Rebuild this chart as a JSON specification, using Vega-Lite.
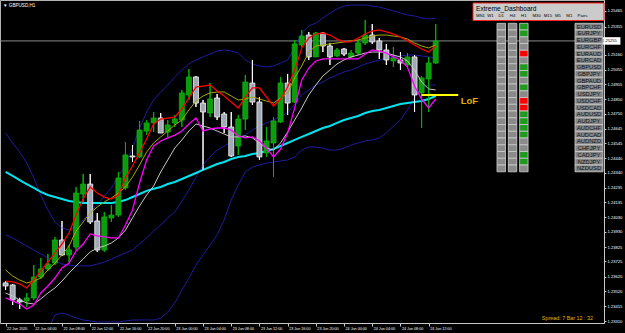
{
"$schema":"https://vega.github.io/schema/vega-lite/v6.json",
"width":604,"height":323,
"autosize":{"type":"none"},
"padding":{"left":0,"top":0,"right":21,"bottom":10},
"background":"#000000",
"config":{"view":{"stroke":"#b4b4b4","strokeWidth":1},"text":{"font":"Liberation Sans"},
 "axis":{"grid":false,"labelColor":"#ffffff","tickColor":"#c8c8c8","domainColor":"#c8c8c8","labelFont":"Liberation Sans","labelOverlap":false,"labelFlush":false,"labelBound":false}},
"title":{"text":"▼ GBPUSD,H1","anchor":"start","frame":"group","offset":-8,"fontSize":4.6,"color":"#ffffff","font":"Liberation Sans","fontWeight":"normal","dx":3},
"datasets":{
"candles":[
{"h":0,"o":1.23576,"hi":1.23589,"lo":1.23527,"c":1.23555,"r":1.23589,"ol":1.23666,"m":1.23472,"g":1.23506,"cy":1.24346,"bu":1.24616,"bm":1.23909,"bl":1.2325},
{"h":1,"o":1.23562,"hi":1.23569,"lo":1.23423,"c":1.23458,"r":1.23583,"ol":1.23624,"m":1.23451,"g":1.23485,"cy":1.24318,"bu":1.24547,"bm":1.23888,"bl":1.2325},
{"h":2,"o":1.23458,"hi":1.23472,"lo":1.23395,"c":1.23444,"r":1.23569,"ol":1.23596,"m":1.2343,"g":1.23458,"cy":1.2429,"bu":1.24484,"bm":1.2386,"bl":1.2325},
{"h":3,"o":1.23451,"hi":1.23506,"lo":1.23409,"c":1.23472,"r":1.23541,"ol":1.23576,"m":1.23395,"g":1.23437,"cy":1.24262,"bu":1.24408,"bm":1.23832,"bl":1.2325},
{"h":4,"o":1.23472,"hi":1.237,"lo":1.23458,"c":1.23617,"r":1.23596,"ol":1.23589,"m":1.23423,"g":1.2343,"cy":1.24235,"bu":1.24304,"bm":1.23805,"bl":1.2325},
{"h":5,"o":1.23617,"hi":1.23749,"lo":1.23603,"c":1.23673,"r":1.23659,"ol":1.2361,"m":1.23506,"g":1.23465,"cy":1.24208,"bu":1.24186,"bm":1.23777,"bl":1.2325},
{"h":6,"o":1.23673,"hi":1.23777,"lo":1.23659,"c":1.23707,"r":1.23721,"ol":1.23666,"m":1.23555,"g":1.23506,"cy":1.24186,"bu":1.24082,"bm":1.23749,"bl":1.2325},
{"h":7,"o":1.23714,"hi":1.23895,"lo":1.237,"c":1.23874,"r":1.23784,"ol":1.23714,"m":1.2361,"g":1.23541,"cy":1.24172,"bu":1.23999,"bm":1.23728,"bl":1.23353},
{"h":8,"o":1.23874,"hi":1.24006,"lo":1.23763,"c":1.2377,"r":1.23846,"ol":1.2377,"m":1.2368,"g":1.23589,"cy":1.24158,"bu":1.23957,"bm":1.23707,"bl":1.23367},
{"h":9,"o":1.2377,"hi":1.23839,"lo":1.23721,"c":1.23805,"r":1.23922,"ol":1.23832,"m":1.23714,"g":1.23645,"cy":1.24145,"bu":1.23943,"bm":1.237,"bl":1.23353},
{"h":10,"o":1.23825,"hi":1.24242,"lo":1.23805,"c":1.242,"r":1.24047,"ol":1.23936,"m":1.23798,"g":1.23694,"cy":1.24138,"bu":1.23971,"bm":1.23694,"bl":1.23333},
{"h":11,"o":1.24193,"hi":1.24332,"lo":1.24138,"c":1.24262,"r":1.24158,"ol":1.23999,"m":1.23846,"g":1.23742,"cy":1.24131,"bu":1.24013,"bm":1.23694,"bl":1.23319},
{"h":12,"o":1.24262,"hi":1.24332,"lo":1.23985,"c":1.23999,"r":1.24242,"ol":1.24061,"m":1.23916,"g":1.23791,"cy":1.24131,"bu":1.24068,"bm":1.23694,"bl":1.23312},
{"h":13,"o":1.24006,"hi":1.24061,"lo":1.23791,"c":1.23805,"r":1.242,"ol":1.24103,"m":1.23902,"g":1.23818,"cy":1.24131,"bu":1.24117,"bm":1.23707,"bl":1.23305},
{"h":14,"o":1.23805,"hi":1.24068,"lo":1.23791,"c":1.24034,"r":1.24172,"ol":1.24138,"m":1.23895,"g":1.23832,"cy":1.24131,"bu":1.24179,"bm":1.23721,"bl":1.23305},
{"h":15,"o":1.24027,"hi":1.24117,"lo":1.23999,"c":1.24047,"r":1.24158,"ol":1.24165,"m":1.23888,"g":1.23853,"cy":1.24131,"bu":1.24235,"bm":1.23742,"bl":1.23305},
{"h":16,"o":1.24047,"hi":1.24346,"lo":1.24034,"c":1.24304,"r":1.24186,"ol":1.242,"m":1.23888,"g":1.23888,"cy":1.24138,"bu":1.24318,"bm":1.23763,"bl":1.23305},
{"h":17,"o":1.24235,"hi":1.24554,"lo":1.24221,"c":1.24464,"r":1.24304,"ol":1.24242,"m":1.23978,"g":1.23943,"cy":1.24151,"bu":1.24394,"bm":1.23784,"bl":1.23312},
{"h":18,"o":1.24457,"hi":1.24533,"lo":1.24415,"c":1.2445,"r":1.24387,"ol":1.24311,"m":1.24082,"g":1.24027,"cy":1.24172,"bu":1.24512,"bm":1.23805,"bl":1.23319},
{"h":19,"o":1.2445,"hi":1.247,"lo":1.24443,"c":1.24637,"r":1.24478,"ol":1.24394,"m":1.24269,"g":1.2411,"cy":1.24193,"bu":1.24651,"bm":1.23846,"bl":1.23319},
{"h":20,"o":1.2463,"hi":1.24706,"lo":1.24602,"c":1.24686,"r":1.24575,"ol":1.24484,"m":1.24429,"g":1.24186,"cy":1.24215,"bu":1.24762,"bm":1.23888,"bl":1.23319},
{"h":21,"o":1.24686,"hi":1.24762,"lo":1.24623,"c":1.2472,"r":1.24679,"ol":1.24547,"m":1.24526,"g":1.24249,"cy":1.24229,"bu":1.24845,"bm":1.23936,"bl":1.23319},
{"h":22,"o":1.2472,"hi":1.24755,"lo":1.24616,"c":1.24616,"r":1.24713,"ol":1.24589,"m":1.24561,"g":1.24346,"cy":1.24242,"bu":1.24901,"bm":1.23978,"bl":1.23333},
{"h":23,"o":1.24623,"hi":1.24706,"lo":1.24589,"c":1.24672,"r":1.2472,"ol":1.2463,"m":1.24582,"g":1.24429,"cy":1.24262,"bu":1.24949,"bm":1.24027,"bl":1.23374},
{"h":24,"o":1.24686,"hi":1.24741,"lo":1.24658,"c":1.24713,"r":1.24727,"ol":1.24672,"m":1.24602,"g":1.24512,"cy":1.24276,"bu":1.25005,"bm":1.24068,"bl":1.23437},
{"h":25,"o":1.24706,"hi":1.24915,"lo":1.24658,"c":1.24894,"r":1.24783,"ol":1.24706,"m":1.2463,"g":1.24568,"cy":1.24297,"bu":1.25053,"bm":1.24145,"bl":1.23527},
{"h":26,"o":1.2488,"hi":1.2506,"lo":1.24845,"c":1.25005,"r":1.24859,"ol":1.24776,"m":1.24679,"g":1.2463,"cy":1.24318,"bu":1.25095,"bm":1.24221,"bl":1.2361},
{"h":27,"o":1.25005,"hi":1.25012,"lo":1.24797,"c":1.24824,"r":1.24935,"ol":1.24838,"m":1.2472,"g":1.24679,"cy":1.24339,"bu":1.25123,"bm":1.24311,"bl":1.237},
{"h":28,"o":1.24824,"hi":1.24845,"lo":1.2436,"c":1.24762,"r":1.24942,"ol":1.24873,"m":1.2463,"g":1.24665,"cy":1.2436,"bu":1.25144,"bm":1.24394,"bl":1.2377},
{"h":29,"o":1.24755,"hi":1.24963,"lo":1.24727,"c":1.24852,"r":1.24949,"ol":1.24894,"m":1.24644,"g":1.24651,"cy":1.2438,"bu":1.25164,"bm":1.2445,"bl":1.23839},
{"h":30,"o":1.24859,"hi":1.24887,"lo":1.24706,"c":1.24727,"r":1.24908,"ol":1.24901,"m":1.24651,"g":1.2463,"cy":1.24401,"bu":1.25185,"bm":1.24498,"bl":1.23909},
{"h":31,"o":1.24748,"hi":1.24762,"lo":1.24616,"c":1.24658,"r":1.24873,"ol":1.24901,"m":1.24651,"g":1.24609,"cy":1.24415,"bu":1.25192,"bm":1.24526,"bl":1.24013},
{"h":32,"o":1.24658,"hi":1.24762,"lo":1.2445,"c":1.24457,"r":1.24831,"ol":1.24873,"m":1.24637,"g":1.24589,"cy":1.24436,"bu":1.25185,"bm":1.24554,"bl":1.24151},
{"h":33,"o":1.24526,"hi":1.24741,"lo":1.24464,"c":1.24713,"r":1.2479,"ol":1.24845,"m":1.24596,"g":1.24589,"cy":1.2445,"bu":1.25171,"bm":1.24582,"bl":1.24256},
{"h":34,"o":1.24713,"hi":1.25019,"lo":1.24637,"c":1.2497,"r":1.24866,"ol":1.24852,"m":1.24582,"g":1.24596,"cy":1.24457,"bu":1.25123,"bm":1.24602,"bl":1.24346},
{"h":35,"o":1.24963,"hi":1.25123,"lo":1.24811,"c":1.24831,"r":1.24929,"ol":1.24866,"m":1.24589,"g":1.24582,"cy":1.24471,"bu":1.25095,"bm":1.24637,"bl":1.2438},
{"h":36,"o":1.24831,"hi":1.24866,"lo":1.24429,"c":1.2445,"r":1.24929,"ol":1.24852,"m":1.24561,"g":1.24547,"cy":1.24478,"bu":1.25081,"bm":1.24665,"bl":1.24394},
{"h":37,"o":1.24478,"hi":1.24658,"lo":1.2445,"c":1.24561,"r":1.24866,"ol":1.24838,"m":1.24512,"g":1.24512,"cy":1.24491,"bu":1.25074,"bm":1.24686,"bl":1.24408},
{"h":38,"o":1.24547,"hi":1.24727,"lo":1.24311,"c":1.247,"r":1.24804,"ol":1.24824,"m":1.2445,"g":1.24498,"cy":1.24505,"bu":1.25081,"bm":1.24706,"bl":1.24415},
{"h":39,"o":1.24693,"hi":1.25005,"lo":1.24686,"c":1.24963,"r":1.24852,"ol":1.24859,"m":1.24505,"g":1.24547,"cy":1.24526,"bu":1.25102,"bm":1.24734,"bl":1.24422},
{"h":40,"o":1.24963,"hi":1.25026,"lo":1.24741,"c":1.24824,"r":1.24935,"ol":1.24894,"m":1.24616,"g":1.24623,"cy":1.24547,"bu":1.25123,"bm":1.24755,"bl":1.24429},
{"h":41,"o":1.24831,"hi":1.25262,"lo":1.24824,"c":1.25234,"r":1.25053,"ol":1.24998,"m":1.2479,"g":1.24706,"cy":1.24568,"bu":1.25206,"bm":1.24817,"bl":1.2445},
{"h":42,"o":1.25227,"hi":1.25331,"lo":1.25213,"c":1.25289,"r":1.25206,"ol":1.25081,"m":1.24984,"g":1.2479,"cy":1.24589,"bu":1.2531,"bm":1.2488,"bl":1.24498},
{"h":43,"o":1.25296,"hi":1.25317,"lo":1.25123,"c":1.25144,"r":1.25275,"ol":1.25178,"m":1.25067,"g":1.2488,"cy":1.24609,"bu":1.25359,"bm":1.24915,"bl":1.24519},
{"h":44,"o":1.25144,"hi":1.25317,"lo":1.25144,"c":1.2531,"r":1.25303,"ol":1.2522,"m":1.25116,"g":1.24949,"cy":1.2463,"bu":1.25379,"bm":1.24949,"bl":1.24519},
{"h":45,"o":1.2531,"hi":1.25317,"lo":1.25178,"c":1.2522,"r":1.2531,"ol":1.25227,"m":1.2513,"g":1.25012,"cy":1.24651,"bu":1.25414,"bm":1.2497,"bl":1.24512},
{"h":46,"o":1.2522,"hi":1.25241,"lo":1.25088,"c":1.25144,"r":1.25296,"ol":1.25234,"m":1.2513,"g":1.25053,"cy":1.24665,"bu":1.25449,"bm":1.24998,"bl":1.24498},
{"h":47,"o":1.25151,"hi":1.25206,"lo":1.25144,"c":1.25192,"r":1.25268,"ol":1.25241,"m":1.2513,"g":1.25095,"cy":1.24686,"bu":1.25477,"bm":1.25019,"bl":1.24498},
{"h":48,"o":1.25199,"hi":1.25206,"lo":1.25151,"c":1.25164,"r":1.25248,"ol":1.25248,"m":1.2513,"g":1.25123,"cy":1.24706,"bu":1.25497,"bm":1.2504,"bl":1.24512},
{"h":49,"o":1.25144,"hi":1.25192,"lo":1.25137,"c":1.25171,"r":1.25248,"ol":1.25255,"m":1.2513,"g":1.25144,"cy":1.2472,"bu":1.25504,"bm":1.25053,"bl":1.24533},
{"h":50,"o":1.25171,"hi":1.25262,"lo":1.25157,"c":1.25241,"r":1.25275,"ol":1.25262,"m":1.2513,"g":1.25157,"cy":1.24734,"bu":1.25504,"bm":1.25074,"bl":1.24547},
{"h":51,"o":1.25241,"hi":1.254,"lo":1.25227,"c":1.25296,"r":1.25303,"ol":1.25275,"m":1.25164,"g":1.25171,"cy":1.24755,"bu":1.25504,"bm":1.25095,"bl":1.24561},
{"h":52,"o":1.25296,"hi":1.25372,"lo":1.25234,"c":1.25248,"r":1.25324,"ol":1.25289,"m":1.25192,"g":1.25178,"cy":1.24769,"bu":1.25497,"bm":1.25109,"bl":1.24568},
{"h":53,"o":1.25255,"hi":1.25275,"lo":1.2513,"c":1.25192,"r":1.25331,"ol":1.25296,"m":1.25185,"g":1.25178,"cy":1.24776,"bu":1.2549,"bm":1.25123,"bl":1.24582},
{"h":54,"o":1.25192,"hi":1.25234,"lo":1.25088,"c":1.25123,"r":1.25317,"ol":1.25296,"m":1.25171,"g":1.25171,"cy":1.2479,"bu":1.25477,"bm":1.25137,"bl":1.24616},
{"h":55,"o":1.25116,"hi":1.25213,"lo":1.25074,"c":1.25137,"r":1.25303,"ol":1.25289,"m":1.25144,"g":1.25157,"cy":1.24804,"bu":1.25463,"bm":1.25144,"bl":1.24665},
{"h":56,"o":1.25123,"hi":1.25178,"lo":1.25053,"c":1.25102,"r":1.25282,"ol":1.25282,"m":1.25123,"g":1.25144,"cy":1.24817,"bu":1.25449,"bm":1.25151,"bl":1.24706},
{"h":57,"o":1.25088,"hi":1.25171,"lo":1.2506,"c":1.25144,"r":1.25255,"ol":1.25268,"m":1.25074,"g":1.25116,"cy":1.24824,"bu":1.25435,"bm":1.25157,"bl":1.24776},
{"h":58,"o":1.25144,"hi":1.25157,"lo":1.24762,"c":1.2488,"r":1.25227,"ol":1.25241,"m":1.24942,"g":1.25053,"cy":1.24831,"bu":1.25428,"bm":1.25157,"bl":1.24866},
{"h":59,"o":1.24894,"hi":1.25012,"lo":1.24651,"c":1.24998,"r":1.25199,"ol":1.2522,"m":1.24852,"g":1.2497,"cy":1.24838,"bu":1.25414,"bm":1.25151,"bl":1.24929},
{"h":60,"o":1.24991,"hi":1.25144,"lo":1.24762,"c":1.25102,"r":1.25178,"ol":1.25206,"m":1.2479,"g":1.24922,"cy":1.24852,"bu":1.25407,"bm":1.25144,"bl":1.24949},
{"h":61,"o":1.25102,"hi":1.25372,"lo":1.25095,"c":1.25255,"r":1.2522,"ol":1.25227,"m":1.24852,"g":1.24915,"cy":1.24873,"bu":1.25414,"bm":1.25137,"bl":1.24949}
],
"bid":[{"p":1.25255}],
"levels":[{"name":"LoF","price":1.2488,"from":59,"to":64.2}],
"info":[{"t":"Spread: 7   Bar  12 : 32"}],
"header":[{"t":"Extreme_Dashboard"}],
"tfs":[{"tf":"MN1"},{"tf":"W1"},{"tf":"D1"},{"tf":"H4"},{"tf":"H1"},{"tf":"M30"},{"tf":"M15"},{"tf":"M5"},{"tf":"M1"},{"tf":"Pairs"}],
"dash":[
{"p":"EURUSD","D1":"n","H4":"n","H1":"g"},
{"p":"EURJPY","D1":"n","H4":"n","H1":"g"},
{"p":"EURGBP","D1":"n","H4":"n","H1":"n"},
{"p":"EURCHF","D1":"n","H4":"n","H1":"n"},
{"p":"EURAUD","D1":"n","H4":"n","H1":"r"},
{"p":"EURCAD","D1":"n","H4":"n","H1":"n"},
{"p":"GBPUSD","D1":"n","H4":"n","H1":"g"},
{"p":"GBPJPY","D1":"n","H4":"n","H1":"g"},
{"p":"GBPAUD","D1":"n","H4":"n","H1":"n"},
{"p":"GBPCHF","D1":"n","H4":"n","H1":"g"},
{"p":"USDJPY","D1":"n","H4":"n","H1":"n"},
{"p":"USDCHF","D1":"n","H4":"n","H1":"r"},
{"p":"USDCAD","D1":"n","H4":"n","H1":"r"},
{"p":"AUDUSD","D1":"n","H4":"n","H1":"g"},
{"p":"AUDJPY","D1":"n","H4":"n","H1":"g"},
{"p":"AUDCHF","D1":"n","H4":"n","H1":"g"},
{"p":"AUDCAD","D1":"n","H4":"n","H1":"g"},
{"p":"AUDNZD","D1":"n","H4":"n","H1":"n"},
{"p":"CHFJPY","D1":"n","H4":"n","H1":"n"},
{"p":"CADJPY","D1":"n","H4":"n","H1":"g"},
{"p":"NZDJPY","D1":"n","H4":"n","H1":"g"},
{"p":"NZDUSD","D1":"n","H4":"n","H1":"n"}
]
},
"layer":[
{
"data":{"name":"candles"},
"layer":[
{"mark":{"type":"rule","strokeWidth":1},
 "encoding":{
  "x":{"field":"h","type":"quantitative","title":null,"scale":{"domain":[-0.084,84.16],"nice":false,"zero":false},
   "axis":{"values":[0,4,8,12,16,20,24,28,32,36,40,44,48,52,56,60],"tickCount":40,
    "labelExpr":"datum.value == 0 ? '22 Jun 2020' : (22 + floor(datum.value / 24)) + ' Jun ' + (datum.value % 24 < 10 ? '0' : '') + (datum.value % 24) + ':00'",
    "labelAlign":"left","labelBaseline":"top","labelFontSize":3.7,"labelPadding":0,"labelOffset":1,
    "labelOverlap":false,"labelFlush":false,"labelBound":false,
    "tickSize":3,"title":null,"grid":false}},
  "y":{"field":"lo","type":"quantitative","title":null,"scale":{"domain":[1.23298,1.25539],"nice":false,"zero":false},
   "axis":{"orient":"right","values":[1.25465,1.25355,1.2516,1.25055,1.24955,1.2485,1.2475,1.24645,1.24545,1.2444,1.2434,1.24235,1.24135,1.2403,1.2393,1.23825,1.23725,1.2362,1.2352,1.23415,1.2331],"tickCount":40,
    "format":".5f","labelFontSize":4.1,"labelPadding":1,"labelBaseline":"middle","tickSize":2,"title":null,"grid":false,
    "labelOverlap":false,"labelFlush":false,"labelBound":false}},
  "y2":{"field":"hi"},
  "color":{"condition":{"test":"datum.c >= datum.o","value":"#00b400"},"value":"#ffffff"}}},
{"data":{"name":"bid"},"mark":{"type":"rule","color":"#8c8c8c","strokeWidth":1},
 "encoding":{"y":{"field":"p","type":"quantitative","title":null}}},
{"mark":{"type":"line","color":"#1c1ca0","strokeWidth":1,"clip":true},
 "encoding":{"x":{"field":"h","type":"quantitative","title":null},"y":{"field":"bu","type":"quantitative","title":null}}},
{"mark":{"type":"line","color":"#1c1ca0","strokeWidth":1,"clip":true},
 "encoding":{"x":{"field":"h","type":"quantitative","title":null},"y":{"field":"bm","type":"quantitative","title":null}}},
{"mark":{"type":"line","color":"#1c1ca0","strokeWidth":1,"clip":true},
 "encoding":{"x":{"field":"h","type":"quantitative","title":null},"y":{"field":"bl","type":"quantitative","title":null}}},
{"mark":{"type":"line","color":"#00e4f0","strokeWidth":2,"clip":true},
 "encoding":{"x":{"field":"h","type":"quantitative","title":null},"y":{"field":"cy","type":"quantitative","title":null}}},
{"mark":{"type":"rule","strokeWidth":1},
 "encoding":{"x":{"field":"h","type":"quantitative","title":null},"y":{"field":"lo","type":"quantitative","title":null},"y2":{"field":"hi"},
  "color":{"condition":{"test":"datum.c >= datum.o","value":"#00b400"},"value":"#ffffff"}}},
{"mark":{"type":"bar","width":5,"strokeWidth":0.8},
 "encoding":{"x":{"field":"h","type":"quantitative","title":null},
  "y":{"field":"o","type":"quantitative","title":null},"y2":{"field":"c"},
  "fill":{"condition":{"test":"datum.c >= datum.o","value":"#0c9c0c"},"value":"#a2a9b6"},
  "stroke":{"condition":{"test":"datum.c >= datum.o","value":"#10b010"},"value":"#f4f4f4"}}},
{"mark":{"type":"line","color":"#c8c8c8","strokeWidth":1,"clip":true},
 "encoding":{"x":{"field":"h","type":"quantitative","title":null},"y":{"field":"g","type":"quantitative","title":null}}},
{"mark":{"type":"line","color":"#ff00ff","strokeWidth":1.3,"clip":true},
 "encoding":{"x":{"field":"h","type":"quantitative","title":null},"y":{"field":"m","type":"quantitative","title":null}}},
{"mark":{"type":"line","color":"#a8a800","strokeWidth":1,"clip":true},
 "encoding":{"x":{"field":"h","type":"quantitative","title":null},"y":{"field":"ol","type":"quantitative","title":null}}},
{"mark":{"type":"line","color":"#ff0000","strokeWidth":1.3,"clip":true},
 "encoding":{"x":{"field":"h","type":"quantitative","title":null},"y":{"field":"r","type":"quantitative","title":null}}},
{"data":{"name":"levels"},"mark":{"type":"rule","color":"#ffff00","strokeWidth":2},
 "encoding":{"x":{"field":"from","type":"quantitative","title":null},"x2":{"field":"to"},
 "y":{"field":"price","type":"quantitative","title":null}}},
{"data":{"name":"levels"},"mark":{"type":"text","color":"#e0b000","fontSize":9.5,"fontWeight":"bold","align":"left","baseline":"middle","dx":2.5,"dy":6,"font":"Liberation Sans"},
 "encoding":{"x":{"field":"to","type":"quantitative","title":null},
 "y":{"field":"price","type":"quantitative","title":null},
 "text":{"field":"name"}}},
{"data":{"name":"info"},"mark":{"type":"text","color":"#e0b000","fontSize":5.4,"align":"right","baseline":"middle","font":"Liberation Sans"},
 "encoding":{"x":{"datum":83.32,"type":"quantitative","title":null},
 "y":{"datum":1.23331,"type":"quantitative","title":null},
 "text":{"field":"t"}}},
{"data":{"name":"bid"},"mark":{"type":"rule","color":"#ffffff","strokeWidth":7.5,"strokeCap":"butt"},
 "encoding":{"x":{"datum":84.25,"type":"quantitative","title":null},"x2":{"datum":87.2},
 "y":{"field":"p","type":"quantitative","title":null}}},
{"data":{"name":"bid"},"mark":{"type":"text","color":"#000000","fontSize":4.1,"align":"left","baseline":"middle","font":"Liberation Sans"},
 "encoding":{"x":{"datum":84.6,"type":"quantitative","title":null},
 "y":{"field":"p","type":"quantitative","title":null},
 "text":{"field":"p","format":".5f"}}}
]
},
{
"data":{"name":"header"},
"layer":[
{"mark":{"type":"rect","fill":"#cbcbcb","stroke":"#ff2020","strokeWidth":1},
 "encoding":{"x":{"datum":"hdr","type":"nominal","scale":{"domain":["hdr"],"range":[473,604],"paddingInner":0,"paddingOuter":0},"axis":null},
 "y":{"datum":"hdr","type":"nominal","scale":{"domain":["hdr"],"range":[3,20.5],"paddingInner":0,"paddingOuter":0},"axis":null}}},
{"mark":{"type":"text","align":"left","baseline":"middle","fontSize":6.6,"color":"#000000","dx":3,"font":"Liberation Sans"},
 "encoding":{"x":{"datum":"hdr","type":"nominal","bandPosition":0,"scale":{"domain":["hdr"],"range":[473,604],"paddingInner":0,"paddingOuter":0},"axis":null},
 "y":{"datum":"hdr","type":"nominal","bandPosition":0.35,"scale":{"domain":["hdr"],"range":[3,20.5],"paddingInner":0,"paddingOuter":0},"axis":null},
 "text":{"field":"t"}}}
]
},
{
"layer":[
{"data":{"name":"dash"},"transform":[{"fold":["D1","H4","H1"],"as":["tf","s"]}],
 "mark":{"type":"rect","stroke":"#d0d0d0","strokeWidth":0.8},
 "encoding":{
  "x":{"field":"tf","type":"nominal","scale":{"domain":["MN1","W1","D1","H4","H1","M30","M15","M5","M1","Pairs"],"range":[474.4,584.6],"paddingInner":0.25,"paddingOuter":0},"axis":null},
  "y":{"field":"p","type":"nominal","scale":{"domain":["hdr","EURUSD","EURJPY","EURGBP","EURCHF","EURAUD","EURCAD","GBPUSD","GBPJPY","GBPAUD","GBPCHF","USDJPY","USDCHF","USDCAD","AUDUSD","AUDJPY","AUDCHF","AUDCAD","AUDNZD","CHFJPY","CADJPY","NZDJPY","NZDUSD"],"range":[16.55,171.8],"paddingInner":0,"paddingOuter":0},"axis":null},
  "fill":{"field":"s","type":"nominal","scale":{"domain":["g","r","n"],"range":["#1f9a1f","#ff0000","#8a8a8a"]},"legend":null}}},
{"data":{"name":"tfs"},
 "mark":{"type":"text","align":"left","baseline":"middle","fontSize":4.3,"color":"#000000","dx":1.5,"dy":-1,"font":"Liberation Sans"},
 "encoding":{
  "x":{"field":"tf","type":"nominal","bandPosition":0,"scale":{"domain":["MN1","W1","D1","H4","H1","M30","M15","M5","M1","Pairs"],"range":[474.4,584.6],"paddingInner":0.25,"paddingOuter":0},"axis":null},
  "y":{"datum":"hdr","type":"nominal","bandPosition":0,"scale":{"domain":["hdr","EURUSD","EURJPY","EURGBP","EURCHF","EURAUD","EURCAD","GBPUSD","GBPJPY","GBPAUD","GBPCHF","USDJPY","USDCHF","USDCAD","AUDUSD","AUDJPY","AUDCHF","AUDCAD","AUDNZD","CHFJPY","CADJPY","NZDJPY","NZDUSD"],"range":[16.55,171.8],"paddingInner":0,"paddingOuter":0},"axis":null},
  "text":{"field":"tf"}}}
]
},
{
"data":{"name":"dash"},
"layer":[
{"mark":{"type":"rect","fill":"#878787","stroke":"#cfcfcf","strokeWidth":0.8},
 "encoding":{
  "x":{"datum":"Pairs","type":"nominal","scale":{"domain":["Pairs"],"range":[575,603],"paddingInner":0,"paddingOuter":0},"axis":null},
  "y":{"field":"p","type":"nominal","scale":{"domain":["EURUSD","EURJPY","EURGBP","EURCHF","EURAUD","EURCAD","GBPUSD","GBPJPY","GBPAUD","GBPCHF","USDJPY","USDCHF","USDCAD","AUDUSD","AUDJPY","AUDCHF","AUDCAD","AUDNZD","CHFJPY","CADJPY","NZDJPY","NZDUSD"],"range":[23.3,171.8],"paddingInner":0,"paddingOuter":0},"axis":null}}},
{"mark":{"type":"text","fontSize":5.8,"color":"#101010","baseline":"middle","align":"center","font":"Liberation Sans"},
 "encoding":{
  "x":{"datum":"Pairs","type":"nominal","scale":{"domain":["Pairs"],"range":[575,603],"paddingInner":0,"paddingOuter":0},"axis":null},
  "y":{"field":"p","type":"nominal","scale":{"domain":["EURUSD","EURJPY","EURGBP","EURCHF","EURAUD","EURCAD","GBPUSD","GBPJPY","GBPAUD","GBPCHF","USDJPY","USDCHF","USDCAD","AUDUSD","AUDJPY","AUDCHF","AUDCAD","AUDNZD","CHFJPY","CADJPY","NZDJPY","NZDUSD"],"range":[23.3,171.8],"paddingInner":0,"paddingOuter":0},"axis":null},
  "text":{"field":"p"}}}
]
}
],
"resolve":{"scale":{"x":"independent","y":"independent"}}
}
